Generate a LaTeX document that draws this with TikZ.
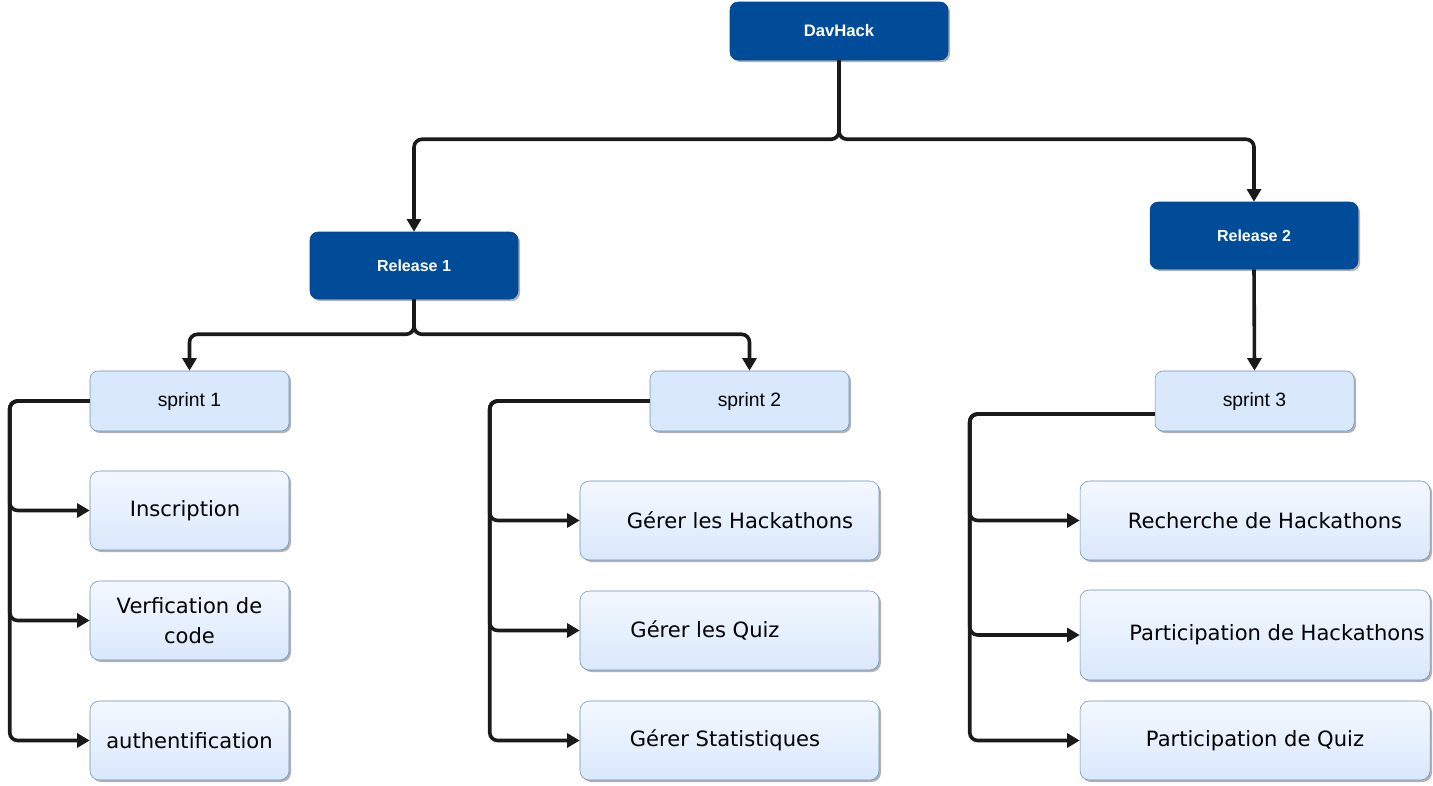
\documentclass[tikz,border=0pt]{standalone}
\usepackage{fontspec}
\setmainfont{Liberation Sans}
\newfontfamily\leaffont{DejaVu Sans}
\usetikzlibrary{arrows.meta,shadows}
\definecolor{darkblue}{HTML}{004C99}
\definecolor{lightblue}{HTML}{DAE8FC}
\definecolor{blueline}{HTML}{6C8EBF}
\definecolor{wire}{HTML}{1A1A1A}
\begin{document}
\begin{tikzpicture}[
  x=0.75pt, y=-0.75pt,
  box_shadow/.style={drop shadow={shadow xshift=1.5pt, shadow yshift=-1.5pt, opacity=0.3, fill=black}},
  release_style/.style={box_shadow, fill=darkblue, draw=darkblue!90!black, rounded corners=6pt, text=white, text centered, minimum width=156pt, minimum height=50.25pt, font=\bfseries\fontsize{12}{14}\selectfont},
  sprint_style/.style={box_shadow, fill=lightblue, draw=blueline, rounded corners=6pt, text centered, minimum width=149.25pt, minimum height=45pt, font=\fontsize{14.5}{17}\selectfont},
  task_style/.style={box_shadow, draw=blueline, rounded corners=7pt, top color=lightblue!30!white, middle color=lightblue, bottom color=lightblue, inner xsep=2pt, minimum height=59.25pt, font=\leaffont\fontsize{15.8}{22}\selectfont},
  padl/.style={execute at begin node={\hspace*{#1}}},
  padr/.style={execute at end node={\hspace*{#1}}},
  wire_style/.style={draw=wire, line width=2.7pt, rounded corners=6pt, -{Triangle[length=9.5pt,width=10.5pt]}}
]
\useasboundingbox (0,0) rectangle (1433,785);

% Root node
\node[release_style, minimum width=163.5pt, minimum height=43.5pt, font=\bfseries\fontsize{12.5}{15}\selectfont] (root) at (839,31) {DavHack};

% Releases
\node[release_style] (rel1) at (414,265.5) {Release 1};
\node[release_style] (rel2) at (1254,235.5) {Release 2};

% Sprints
\node[sprint_style] (sp1) at (189.5,401) {sprint 1};
\node[sprint_style] (sp2) at (749.5,401) {sprint 2};
\node[sprint_style] (sp3) at (1254.5,401) {sprint 3};

% Sprint 1 tasks
\node[task_style, minimum width=149.25pt, padr=6.75pt] (inscr) at (189.5,510.5) {Inscription};
\node[task_style, minimum width=149.25pt, align=center] (verif) at (189.5,620.5) {Verfication de\\code};
\node[task_style, minimum width=149.25pt] (auth) at (189.5,740.5) {authentification};

% Sprint 2 tasks
\node[task_style, minimum width=224.25pt, padl=15.75pt] (hack) at (729.5,520.5) {Gérer les Hackathons};
\node[task_style, minimum width=224.25pt, padr=36.75pt] (quiz) at (729.5,630.5) {Gérer les Quiz};
\node[task_style, minimum width=224.25pt, padr=6.75pt] (stats) at (729.5,740.5) {Gérer Statistiques};

% Sprint 3 tasks
\node[task_style, minimum width=262.5pt, padl=15pt] (search) at (1255,520.5) {Recherche de Hackathons};
\node[task_style, minimum width=262.5pt, minimum height=67.5pt, padl=33pt] (phack) at (1255,635) {Participation de Hackathons};
\node[task_style, minimum width=262.5pt] (pquiz) at (1255,740.5) {Participation de Quiz};

% Connectors
\draw[wire_style] (root.south) -- ++(0,79) -| (rel1.north);
\draw[wire_style] (root.south) -- ++(0,79) -| (rel2.north);
\draw[wire_style] (rel1.south) -- ++(0,35) -| (sp1.north);
\draw[wire_style] (rel1.south) -- ++(0,35) -| (sp2.north);
\draw[wire_style] (rel2.south) -- (sp3.north);

\draw[wire_style] (sp1.west) -- ++(-80,0) |- (inscr.west);
\draw[wire_style] (sp1.west) -- ++(-80,0) |- (verif.west);
\draw[wire_style] (sp1.west) -- ++(-80,0) |- (auth.west);

\draw[wire_style] (sp2.west) -- ++(-160,0) |- (hack.west);
\draw[wire_style] (sp2.west) -- ++(-160,0) |- (quiz.west);
\draw[wire_style] (sp2.west) -- ++(-160,0) |- (stats.west);

\draw[wire_style] ([yshift=-9.75pt]sp3.west) -- ++(-185,0) |- (search.west);
\draw[wire_style] ([yshift=-9.75pt]sp3.west) -- ++(-185,0) |- (phack.west);
\draw[wire_style] ([yshift=-9.75pt]sp3.west) -- ++(-185,0) |- (pquiz.west);
\end{tikzpicture}
\end{document}
